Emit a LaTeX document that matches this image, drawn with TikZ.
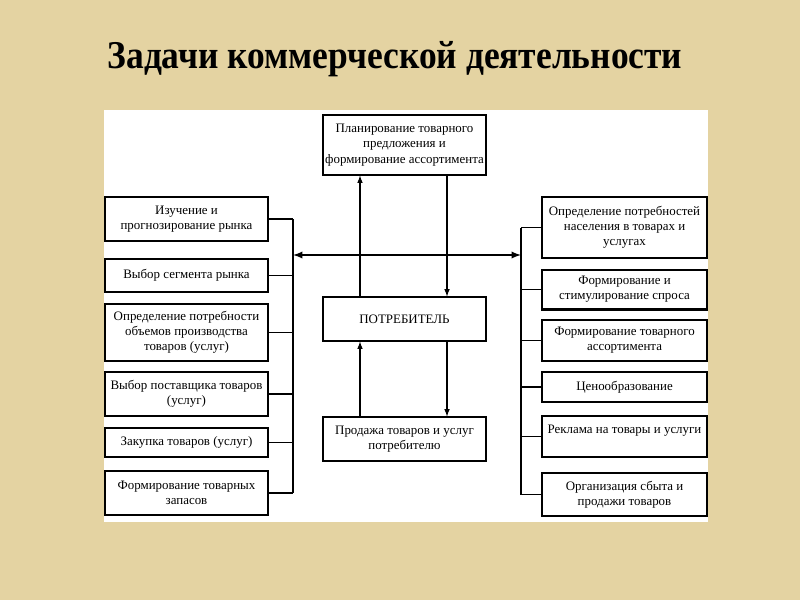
\documentclass[tikz,border=0pt]{standalone}
\usepackage{fontspec}
\setmainfont{Liberation Serif}
\newfontfamily\titlefont[FakeStretch=0.9]{Liberation Serif}
\usetikzlibrary{arrows, positioning}
\definecolor{parchment}{RGB}{228,211,162}

\begin{document}
\begin{tikzpicture}[
    x=0.025cm, y=-0.025cm,
    task/.style={rectangle, draw=black, line width=0.8pt, fill=white, align=center, inner sep=1pt, font=\fontsize{9.2}{10.8}\selectfont},
    lefttask/.style={task, minimum width=4.075cm},
    righttask/.style={task, minimum width=4.125cm},
    core/.style={task, minimum width=4.075cm},
    link/.style={line width=0.8pt},
    arrow/.style={line width=0.8pt,->,>=latex}
]

% Background
\fill[parchment] (0,0) rectangle (800,600);
\fill[white] (104,110) rectangle (708,522);

\node (title) at (395,59) {\titlefont\bfseries\fontsize{28}{30}\selectfont Задачи коммерческой деятельности};

% Nodes
\node (plan) [core, minimum height=1.5cm] at (404.5,145) {Планирование товарного\\предложения и\\формирование ассортимента};
\node (consumer) [core, minimum height=1.1cm] at (404.5,319) {ПОТРЕБИТЕЛЬ};
\node (sale) [core, minimum height=1.1cm] at (404.5,439) {Продажа товаров и услуг\\потребителю};

\node (study) [lefttask, minimum height=1.1cm] at (186.5,219) {Изучение и\\прогнозирование рынка};
\node (segment) [lefttask, minimum height=0.825cm] at (186.5,275.5) {Выбор сегмента рынка};
\node (volume) [lefttask, minimum height=1.425cm] at (186.5,332.5) {Определение потребности\\объемов производства\\товаров (услуг)};
\node (supplier) [lefttask, minimum height=1.1cm] at (186.5,394) {Выбор поставщика товаров\\(услуг)};
\node (purchase) [lefttask, minimum height=0.725cm] at (186.5,442.5) {Закупка товаров (услуг)};
\node (stock) [lefttask, minimum height=1.1cm] at (186.5,493) {Формирование товарных\\запасов};

\node (needs) [righttask, minimum height=1.525cm] at (624.5,227.5) {Определение потребностей\\населения в товарах и\\услугах};
\node (demand) [righttask, minimum height=0.975cm] at (624.5,289.5) {Формирование и\\стимулирование спроса};
\node (range) [righttask, minimum height=1.025cm] at (624.5,340.5) {Формирование товарного\\ассортимента};
\node (pricing) [righttask, minimum height=0.75cm] at (624.5,387) {Ценообразование};
\node (advert) [righttask, minimum height=1.025cm] at (624.5,436.5) {Реклама на товары и услуги\\\mbox{}};
\node (sales) [righttask, minimum height=1.075cm] at (624.5,494.5) {Организация сбыта и\\продажи товаров};
\draw[line width=2pt] (demand.south west) -- (demand.south east);

\coordinate (lbus) at (293,255);
\coordinate (rbus) at (521,255);

% Arrows
\foreach \n in {study, segment, volume, supplier, purchase, stock}
    \draw[link] (\n.east) -- (\n.east -| lbus);
\draw[link] (study.east -| lbus) -- (stock.east -| lbus);

\foreach \n in {needs, demand, range, pricing, advert, sales}
    \draw[link] (\n.west -| rbus) -- (\n.west);
\draw[link] (needs.west -| rbus) -- (sales.west -| rbus);

\draw[line width=1.3pt,<->,>=latex] (lbus) -- (rbus);

\draw[arrow] ([xshift=-1.1125cm]consumer.north) -- ([xshift=-1.1125cm]plan.south);
\draw[arrow] ([xshift=1.0625cm]plan.south) -- ([xshift=1.0625cm]consumer.north);
\draw[arrow] ([xshift=-1.1125cm]sale.north) -- ([xshift=-1.1125cm]consumer.south);
\draw[arrow] ([xshift=1.0625cm]consumer.south) -- ([xshift=1.0625cm]sale.north);

\end{tikzpicture}
\end{document}
